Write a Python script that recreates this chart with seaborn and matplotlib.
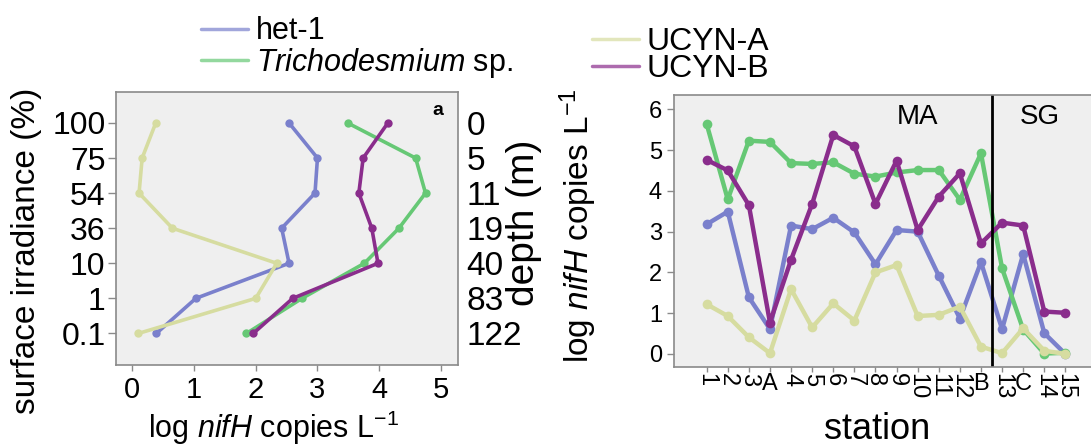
import numpy as np
import pandas as pd
import matplotlib
matplotlib.use("Agg")
import matplotlib.pyplot as plt
from matplotlib.lines import Line2D
import seaborn as sns

sns.set_style("ticks")
plt.rcParams['font.family'] = ['Liberation Sans', 'DejaVu Sans']
plt.rcParams['mathtext.fontset'] = 'custom'
plt.rcParams['mathtext.rm'] = 'Liberation Sans'
plt.rcParams['mathtext.it'] = 'Liberation Sans:italic'
plt.rcParams['text.color'] = 'black'
plt.rcParams['axes.labelcolor'] = 'black'
plt.rcParams['xtick.labelcolor'] = 'black'
plt.rcParams['ytick.labelcolor'] = 'black'

# groups and colours
groups = ["het-1", "Trichodesmium sp.", "UCYN-A", "UCYN-B"]
colors = {"het-1": "#7a80cc", "Trichodesmium sp.": "#66c875",
          "UCYN-A": "#d6dca0", "UCYN-B": "#8a2d8c"}

# panel a: depth profile (bottom -> top)
irradiance_labels = ["0.1", "1", "10", "36", "54", "75", "100"]
depth_labels = ["122", "83", "40", "19", "11", "5", "0"]
het1_profile = [0.39, 1.03, 2.54, 2.42, 2.96, 3.00, 2.54]
tricho_profile = [1.85, 2.75, 3.76, 4.32, 4.75, 4.59, 3.49]
ucyna_profile = [0.10, 2.00, 2.34, 0.65, 0.11, 0.16, 0.38]
ucynb_profile = [1.96, 2.60, 3.98, 3.88, 3.67, 3.74, 4.14]

# panel b: stations
stations = ["1", "2", "3", "A", "4", "5", "6", "7", "8", "9", "10", "11", "12",
            "B", "13", "C", "14", "15"]
het1_st = [3.18, 3.49, 1.39, 0.61, 3.15, 3.06, 3.34, 2.98, 2.20, 3.04, 3.00,
           1.92, 0.87, 2.25, 0.61, 2.45, 0.51, 0.00]
tricho_st = [5.64, 3.79, 5.23, 5.20, 4.68, 4.66, 4.70, 4.42, 4.35, 4.45, 4.51,
             4.51, 3.78, 4.92, 2.10, 0.60, 0.01, 0.03]
ucyna_st = [1.22, 0.93, 0.41, 0.02, 1.59, 0.65, 1.24, 0.82, 2.00, 2.18, 0.93,
            0.96, 1.16, 0.18, 0.02, 0.63, 0.08, 0.00]
ucynb_st = [4.76, 4.50, 3.65, 0.77, 2.31, 3.68, 5.37, 5.09, 3.68, 4.74, 3.04,
            3.86, 4.43, 2.71, 3.22, 3.15, 1.04, 1.01]

levels = np.arange(len(irradiance_labels))
prof = pd.DataFrame({
    "value": het1_profile + tricho_profile + ucyna_profile + ucynb_profile,
    "level": list(levels) * 4,
    "group": np.repeat(groups, len(levels)),
})
pos = np.arange(len(stations))
stat = pd.DataFrame({
    "pos": list(pos) * 4,
    "value": het1_st + tricho_st + ucyna_st + ucynb_st,
    "group": np.repeat(groups, len(stations)),
})

bg = "#efefef"
spine_col = "#8a8a8a"
fig = plt.figure(figsize=(10.91, 4.45), dpi=100)

# ---- left panel
ax1 = fig.add_axes([0.1063, 0.1798, 0.3137, 0.6124])
ax1.set_facecolor(bg)
sns.lineplot(data=prof, x="value", y="level", hue="group", hue_order=groups,
             palette=colors, sort=False, estimator=None, marker="o",
             markersize=6, markeredgewidth=0, linewidth=2.6, legend=False, ax=ax1)
ax1.set_xlim(-0.264, 5.28)
ax1.set_ylim(-0.9, 6.87)
ax1.set_xticks(range(6))
ax1.set_yticks(levels)
ax1.set_yticklabels(irradiance_labels)
ax1.tick_params(axis="y", labelsize=23, length=5.5, width=1, color=spine_col, pad=2)
ax1.tick_params(axis="x", labelsize=21, length=4, width=1, color=spine_col, pad=4)
ax1.set_xlabel("log $\\mathit{nifH}$ copies L$^{-1}$", fontsize=22)
ax1.set_ylabel("surface irradiance (%)", fontsize=24)
ax1.xaxis.set_label_coords(0.46, -0.16)
ax1.yaxis.set_label_coords(-0.216, 0.42)
for s in ax1.spines.values():
    s.set_color(spine_col)
    s.set_linewidth(1.2)
ax1.text(0.94, 0.935, "a", transform=ax1.transAxes, fontsize=14,
         fontweight="bold", ha="center", va="center")

ax1r = ax1.twinx()
ax1r.set_ylim(ax1.get_ylim())
ax1r.set_yticks(levels)
ax1r.set_yticklabels(depth_labels)
ax1r.tick_params(axis="y", labelsize=24, length=0, pad=6)
ax1r.set_ylabel("depth (m)", fontsize=28)
ax1r.yaxis.set_label_coords(1.14, 0.52)
for s in ax1r.spines.values():
    s.set_visible(False)

# ---- right panel
ax2 = fig.add_axes([0.6182, 0.1753, 0.3854, 0.6112])
ax2.set_facecolor(bg)
sns.lineplot(data=stat, x="pos", y="value", hue="group", hue_order=groups,
             palette=colors, marker="o", markersize=7, markeredgewidth=0,
             linewidth=3.2, legend=False, ax=ax2)
ax2.axvline(13.5, color="black", linewidth=2)
ax2.set_xlim(-1.526, 18.4)
ax2.set_ylim(-0.319, 6.35)
ax2.set_xticks(pos)
ax2.set_xticklabels(stations)
for lbl, name in zip(ax2.get_xticklabels(), stations):
    lbl.set_rotation(0 if name.isalpha() else 270)
    lbl.set_va("top")
ax2.set_yticks(range(7))
ax2.tick_params(axis="y", labelsize=17, length=5, width=1, color=spine_col, pad=4)
ax2.tick_params(axis="x", labelsize=17, length=3.5, width=1, color=spine_col, pad=1)
ax2.set_xlabel("station", fontsize=26)
ax2.set_ylabel("log $\\mathit{nifH}$ copies L$^{-1}$", fontsize=24)
ax2.xaxis.set_label_coords(0.483, -0.165)
ax2.yaxis.set_label_coords(-0.18, 0.52)
for s in ax2.spines.values():
    s.set_color(spine_col)
    s.set_linewidth(1.2)
ax2.text(10.0, 5.82, "MA", fontsize=20, ha="center", va="center")
ax2.text(15.8, 5.82, "SG", fontsize=20, ha="center", va="center")

# ---- legends
def handle(g):
    return Line2D([], [], color=colors[g], linewidth=2.5, alpha=0.7)

leg1 = fig.legend([handle(groups[0]), handle(groups[1])],
                  ["het-1", "$\\mathit{Trichodesmium}$ sp."],
                  loc="upper left", bbox_to_anchor=(0.184, 0.963), frameon=False,
                  fontsize=22, handlelength=1.55, handletextpad=0.25,
                  labelspacing=-0.02, borderpad=0, borderaxespad=0)
leg2 = fig.legend([handle(groups[2]), handle(groups[3])],
                  ["UCYN-A", "UCYN-B"],
                  loc="upper left", bbox_to_anchor=(0.543, 0.94), frameon=False,
                  fontsize=23, handlelength=1.45, handletextpad=0.25,
                  labelspacing=-0.08, borderpad=0, borderaxespad=0)

fig.savefig("out.png", dpi=100)
